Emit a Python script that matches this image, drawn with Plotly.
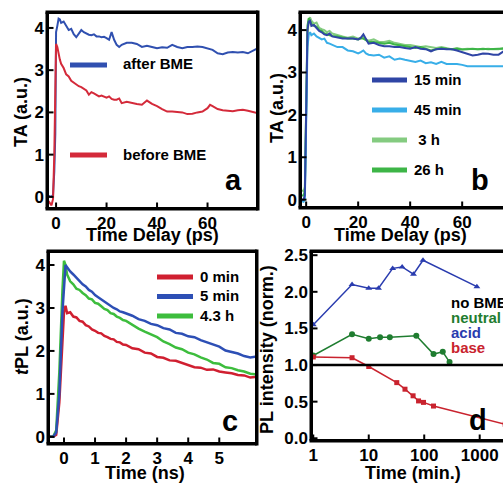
import math
import plotly.graph_objects as go

FONT = "Liberation Sans"
W, H = 503, 483

# ---------------- data: panel a (TA, before/after BME) ----------------
a_delay = [-3, -1.8, -1.2, -0.7, -0.3, 0, 0.5, 1, 1.5, 2, 3, 4, 5, 6, 7, 8, 9, 10, 11, 12,
           13, 14, 15, 16, 17, 18, 19, 20, 21, 22, 23, 24, 25, 26, 28, 30, 32, 34, 36, 38,
           40, 42, 44, 46, 48, 50, 52, 54, 56, 58, 60, 61, 62, 64, 66, 68, 70, 72, 74, 76,
           78, 80]
a_after = [0.02, 0.0, 0.05, 0.6, 1.5, 3.9, 4.05, 4.22, 4.2, 4.12, 4.15, 4.05, 3.95, 3.98, 3.85, 3.78, 3.88, 3.95, 3.9, 3.87,
           3.84, 3.83, 3.85, 3.8, 3.8, 3.78, 3.79, 3.76, 3.72, 3.9, 3.72, 3.6, 3.55, 3.6, 3.65, 3.65, 3.62, 3.55, 3.58, 3.55,
           3.52, 3.54, 3.53, 3.6, 3.55, 3.52, 3.55, 3.55, 3.56, 3.55, 3.52, 3.5, 3.48, 3.4, 3.38, 3.42, 3.43, 3.42, 3.43, 3.4,
           3.46, 3.52]
a_before = [-0.1, -0.2, -0.05, 1.0, 2.5, 3.62, 3.55, 3.35, 3.25, 3.15, 3.05, 2.9, 2.85, 2.75, 2.7, 2.65, 2.62, 2.6, 2.55, 2.52,
            2.42, 2.48, 2.45, 2.42, 2.38, 2.4, 2.38, 2.35, 2.38, 2.32, 2.3, 2.3, 2.33, 2.22, 2.25, 2.22, 2.2, 2.18, 2.28, 2.2,
            2.15, 2.08, 2.02, 2.02, 2.01, 2.0, 1.96, 1.97, 2.0, 2.02, 2.1, 2.18, 2.15, 2.08, 2.05, 2.04, 2.03, 2.05, 2.06, 2.04,
            2.0, 1.98]

# ---------------- data: panel b (TA vs time after BME) ----------------
b_delay = [-3, -1, -0.5, 0, 0.5, 1, 1.5, 2, 3, 4, 5, 6, 7, 8, 9, 10, 12, 14, 16, 18,
           20, 21, 22, 23, 24, 26, 28, 30, 32, 34, 36, 38, 40, 42, 44, 46, 48, 50, 52, 54,
           56, 58, 60, 62, 64, 66, 68, 70, 72, 74, 76, 78, 80]
b_15min = [0.0, 0.0, 0.1, 2.5, 4.0, 4.2, 4.22, 4.1, 4.12, 4.05, 3.98, 3.95, 3.9, 3.88, 3.92, 3.85, 3.82, 3.8, 3.8, 3.8,
           3.78, 3.82, 3.9, 3.78, 3.68, 3.7, 3.65, 3.62, 3.62, 3.6, 3.6, 3.58, 3.56, 3.6, 3.56, 3.55, 3.5, 3.55, 3.56, 3.55,
           3.55, 3.52, 3.48, 3.45, 3.4, 3.42, 3.45, 3.44, 3.42, 3.42, 3.5, 3.5, 3.52]
b_45min = [0.0, -0.05, 0.0, 1.5, 3.6, 3.9, 3.95, 3.88, 3.92, 3.85, 3.82, 3.78, 3.8, 3.7, 3.68, 3.65, 3.6, 3.6, 3.52, 3.5,
           3.45, 3.48, 3.52, 3.45, 3.42, 3.4, 3.42, 3.35, 3.38, 3.3, 3.33, 3.3, 3.28, 3.25, 3.28, 3.22, 3.24, 3.2, 3.25, 3.2,
           3.2, 3.2, 3.18, 3.15, 3.15, 3.15, 3.15, 3.15, 3.15, 3.15, 3.15, 3.15, 3.15]
b_3h = [0.25, 0.2, 0.3, 2.3, 3.9, 4.25, 4.3, 4.22, 4.15, 4.18, 4.05, 4.02, 4.0, 3.95, 3.98, 3.92, 3.88, 3.85, 3.82, 3.85,
        3.8, 3.82, 3.84, 3.78, 3.75, 3.78, 3.72, 3.72, 3.75, 3.7, 3.68, 3.65, 3.65, 3.62, 3.6, 3.62, 3.6, 3.58, 3.6, 3.58,
        3.55, 3.58, 3.55, 3.56, 3.55, 3.55, 3.55, 3.56, 3.55, 3.55, 3.58, 3.57, 3.6]
b_26h = [0.1, 0.1, 0.2, 2.8, 4.1, 4.28, 4.2, 4.15, 4.1, 4.08, 4.0, 3.98, 3.92, 3.9, 3.88, 3.86, 3.85, 3.82, 3.8, 3.8,
         3.78, 3.8, 3.8, 3.76, 3.72, 3.72, 3.7, 3.68, 3.7, 3.66, 3.64, 3.62, 3.6, 3.58, 3.6, 3.56, 3.52, 3.55, 3.58, 3.56,
         3.55, 3.56, 3.54, 3.55, 3.56, 3.55, 3.56, 3.55, 3.56, 3.56, 3.56, 3.57, 3.58]

# ---------------- data: panel c (tPL) ----------------
c_time = [-0.5, -0.35, -0.25, -0.15, -0.05, 0, 0.05, 0.1, 0.2, 0.3, 0.4, 0.5, 0.6, 0.7, 0.8, 0.9,
          1.0, 1.1, 1.2, 1.3, 1.4, 1.5, 1.6, 1.7, 1.8, 1.9, 2.0, 2.2, 2.4, 2.6, 2.8, 3.0,
          3.2, 3.4, 3.6, 3.8, 4.0, 4.2, 4.4, 4.6, 4.8, 5.0, 5.2, 5.4, 5.6, 5.8, 6.0, 6.2]
c_0min = [0.0, 0.0, 0.05, 0.8, 2.2, 2.9, 3.05, 2.88, 2.9, 2.8, 2.78, 2.7, 2.68, 2.6, 2.57, 2.5,
          2.47, 2.42, 2.41, 2.35, 2.32, 2.28, 2.27, 2.21, 2.2, 2.15, 2.14, 2.06, 2.04, 1.96, 1.94, 1.86,
          1.84, 1.78, 1.77, 1.72, 1.68, 1.62, 1.61, 1.56, 1.57, 1.52, 1.5, 1.48, 1.44, 1.43, 1.38, 1.4]
c_5min = [0.0, 0.0, 0.1, 1.0, 2.9, 3.6, 4.0, 3.95, 3.85, 3.78, 3.7, 3.62, 3.55, 3.5, 3.42, 3.38,
          3.3, 3.25, 3.2, 3.14, 3.1, 3.03, 3.0, 2.97, 2.92, 2.9, 2.87, 2.82, 2.74, 2.7, 2.63, 2.6,
          2.53, 2.5, 2.42, 2.4, 2.34, 2.32, 2.25, 2.2, 2.16, 2.1, 2.01, 1.98, 1.94, 1.88, 1.85, 1.87]
c_4h = [0.0, 0.0, 0.15, 1.5, 3.4, 4.1, 4.0, 3.78, 3.62, 3.55, 3.45, 3.42, 3.35, 3.3, 3.22, 3.2,
        3.12, 3.1, 3.04, 2.98, 2.95, 2.88, 2.86, 2.8, 2.77, 2.72, 2.7, 2.6, 2.52, 2.45, 2.38, 2.32,
        2.22, 2.16, 2.08, 2.04, 1.96, 1.92, 1.85, 1.8, 1.72, 1.7, 1.62, 1.6, 1.55, 1.52, 1.47, 1.45]

# ---------------- data: panel d (PL intensity, log time) ----------------
d_acid_t = [1, 5, 10, 15, 27, 40, 64, 95, 890]
d_acid_v = [1.55, 2.1, 2.05, 2.05, 2.32, 2.34, 2.24, 2.43, 2.07]
d_neutral_t = [1, 5, 10, 16, 24, 72, 147, 216, 286]
d_neutral_v = [1.13, 1.42, 1.36, 1.38, 1.38, 1.4, 1.15, 1.18, 1.04]
d_base_t = [1, 5, 10, 32, 45, 63, 79, 97, 147, 2880]
d_base_v = [1.11, 1.1, 0.98, 0.76, 0.67, 0.58, 0.51, 0.49, 0.44, 0.19]
d_ref_level = 1.0

d_text = ["no BME", "neutral", "acid", "base"]

# tick values
ticks_ps = [0, 20, 40, 60]
ticks_ta = [0, 1, 2, 3, 4]
ticks_ns = [0, 1, 2, 3, 4, 5]
ticks_min = [1, 10, 100, 1000]
ticks_pl = [0.0, 0.5, 1.0, 1.5, 2.0, 2.5]

# ---------------- colours ----------------
A_BLUE, A_RED = "#3050b0", "#d42a3a"
B_COLS = ["#2f45a5", "#38aee8", "#84cb80", "#3db547"]
C_RED, C_BLUE, C_GREEN = "#d01f30", "#2d4fb5", "#3dbd3d"
D_BLUE, D_GREEN, D_RED = "#2a3caf", "#1f7d30", "#c9232e"


def fx(p):
    return p / W


def fy(p):
    return 1 - p / H


def bold(vals, fmt="{:g}"):
    return ["<b>" + fmt.format(v) + "</b>" for v in vals]


# panel plot areas in pixels: (left, right, top, bottom)
PAN = {
    "a": (49, 256, 14, 207),
    "b": (302, 503, 14, 206),
    "c": (50, 255, 253, 442),
    "d": (313, 503, 253, 439),
}
RANGES = {
    "a": ([-2.8, 79.2], [-0.24, 4.33]),
    "b": ([-1.6, 75.7], [-0.15, 4.38]),
    "c": ([-0.45, 6.15], [-0.12, 4.28]),
    "d": ([-0.005, 3.42], [-0.01, 2.53]),
}

fig = go.Figure()

# panel a
fig.add_trace(go.Scatter(x=a_delay, y=a_after, xaxis="x", yaxis="y", mode="lines",
                         line=dict(color=A_BLUE, width=2)))
fig.add_trace(go.Scatter(x=a_delay, y=a_before, xaxis="x", yaxis="y", mode="lines",
                         line=dict(color=A_RED, width=2)))
# panel b
for ys, col in zip([b_3h, b_26h, b_45min, b_15min], [B_COLS[2], B_COLS[3], B_COLS[1], B_COLS[0]]):
    fig.add_trace(go.Scatter(x=b_delay, y=ys, xaxis="x2", yaxis="y2", mode="lines",
                             line=dict(color=col, width=2)))
# panel c
for ys, col in zip([c_0min, c_4h, c_5min], [C_RED, C_GREEN, C_BLUE]):
    fig.add_trace(go.Scatter(x=c_time, y=ys, xaxis="x3", yaxis="y3", mode="lines",
                             line=dict(color=col, width=2.5)))
# panel d
fig.add_trace(go.Scatter(x=d_acid_t, y=d_acid_v, xaxis="x4", yaxis="y4", mode="lines+markers",
                         line=dict(color=D_BLUE, width=1.5),
                         marker=dict(symbol="triangle-up", size=6, color=D_BLUE)))
fig.add_trace(go.Scatter(x=d_neutral_t, y=d_neutral_v, xaxis="x4", yaxis="y4", mode="lines+markers",
                         line=dict(color=D_GREEN, width=1.5),
                         marker=dict(symbol="circle", size=6, color=D_GREEN)))
fig.add_trace(go.Scatter(x=d_base_t, y=d_base_v, xaxis="x4", yaxis="y4", mode="lines+markers",
                         line=dict(color=D_RED, width=1.5),
                         marker=dict(symbol="square", size=5, color=D_RED)))

tick_font = dict(family=FONT, size=17, color="black")
common = dict(showline=False, ticks="", showgrid=False, zeroline=False,
              tickfont=tick_font, automargin=False, ticklabelstandoff=4)


def xdom(k):
    l, r, t, b = PAN[k]
    return [fx(l), fx(r)]


def ydom(k):
    l, r, t, b = PAN[k]
    return [fy(b), fy(t)]


fig.update_layout(
    template="none",
    width=W, height=H, margin=dict(l=0, r=0, t=0, b=0, pad=0),
    paper_bgcolor="white", plot_bgcolor="white", showlegend=False,
    xaxis=dict(common, domain=xdom("a"), range=RANGES["a"][0], tickvals=ticks_ps,
               ticktext=bold(ticks_ps), anchor="y"),
    yaxis=dict(common, domain=ydom("a"), range=RANGES["a"][1], tickvals=ticks_ta,
               ticktext=bold(ticks_ta), anchor="x"),
    xaxis2=dict(common, domain=xdom("b"), range=RANGES["b"][0], tickvals=ticks_ps,
                ticktext=bold(ticks_ps), anchor="y2"),
    yaxis2=dict(common, domain=ydom("b"), range=RANGES["b"][1], tickvals=ticks_ta,
                ticktext=bold(ticks_ta), anchor="x2"),
    xaxis3=dict(common, domain=xdom("c"), range=RANGES["c"][0], tickvals=ticks_ns,
                ticktext=bold(ticks_ns), anchor="y3"),
    yaxis3=dict(common, domain=ydom("c"), range=RANGES["c"][1], tickvals=ticks_ta,
                ticktext=bold(ticks_ta), anchor="x3"),
    xaxis4=dict(common, type="log", domain=xdom("d"), range=RANGES["d"][0],
                tickvals=ticks_min, ticktext=bold(ticks_min), anchor="y4"),
    yaxis4=dict(common, domain=ydom("d"), range=RANGES["d"][1],
                tickvals=ticks_pl, ticktext=bold(ticks_pl, "{:.1f}"), anchor="x4"),
)

shapes = []
FW = 3.5  # frame width (px)


def pline(x0, y0, x1, y1, color="black", width=FW):
    shapes.append(dict(type="line", xref="paper", yref="paper", layer="above",
                       x0=fx(x0), y0=fy(y0), x1=fx(x1), y1=fy(y1),
                       line=dict(color=color, width=width)))


# frames (drawn in paper space just outside each plot area)
for k, (l, r, t, b) in PAN.items():
    h = FW / 2
    L, R, T, B = l - h, r + h, t - h, b + h
    if k in ("b", "d"):
        R = W + 5  # frame runs off the right edge of the picture
    pline(L - h, B, R, B)   # bottom
    pline(L - h, T, R, T)   # top
    pline(L, T, L, B)       # left
    if k in ("a", "c"):
        pline(R, T - h, R, B + h)  # right

# inside tick marks at the axis tick values
TICKS = {"a": (ticks_ps, ticks_ta), "b": (ticks_ps, ticks_ta), "c": (ticks_ns, ticks_ta), "d": (ticks_min, ticks_pl)}
TL = 4.5
for k, (l, r, t, b) in PAN.items():
    (xr0, xr1), (yr0, yr1) = RANGES[k]
    xv, yv = TICKS[k]
    for v in xv:
        pos = math.log10(v) if k == "d" else v
        px = l + (pos - xr0) / (xr1 - xr0) * (r - l)
        pline(px, b, px, b - TL, width=2)
    for v in yv:
        py = b - (v - yr0) / (yr1 - yr0) * (b - t)
        pline(l, py, l + TL, py, width=2)

# reference line in panel d
shapes.append(dict(type="line", xref="x4 domain", x0=0, x1=1, yref="y4", y0=d_ref_level, y1=d_ref_level,
                   line=dict(color="black", width=2.5)))


def key(x0, x1, y, color):
    pline(x0, y, x1, y, color=color, width=5)


ann = []


def text(x, y, s, size=15, color="black", anchor="left", angle=0):
    ann.append(dict(xref="paper", yref="paper", x=fx(x), y=fy(y), text="<b>" + s + "</b>", showarrow=False,
                    xanchor=anchor, yanchor="middle", textangle=angle,
                    font=dict(family=FONT, size=size, color=color)))


# panel a legend + labels
key(70, 107, 65, A_BLUE)
key(70, 107, 155, A_RED)
text(121, 64, "after BME")
text(121, 154, "before BME")
text(233, 180, "a", size=29, anchor="center")
text(21, 112, "TA (a.u.)", size=18, anchor="center", angle=-90)
text(152, 235, "Time Delay (ps)", size=18, anchor="center")

# panel b legend + labels
b_names = ["15 min", "45 min", " 3 h", "26 h"]
for i, (nm, col) in enumerate(zip(b_names, B_COLS)):
    y = 80 + 30 * i
    key(372, 407, y, col)
    text(412, y - 1, nm)
text(480, 180, "b", size=29, anchor="center")
text(277, 108, "TA (a.u.)", size=18, anchor="center", angle=-90)
text(400, 235, "Time Delay (ps)", size=18, anchor="center")

# panel c legend + labels
c_names = ["0 min", "5 min", "4.3 h"]
for i, (nm, col) in enumerate(zip(c_names, [C_RED, C_BLUE, C_GREEN])):
    y = 277 + 19.5 * i
    key(157, 193, y, col)
    text(198, y - 1, nm)
text(230, 421, "c", size=29, anchor="center")
text(22, 337, "<i>t</i>PL (a.u.)", size=18, anchor="center", angle=-90)
text(145, 473, "Time (ns)", size=18, anchor="center")

# panel d text legend + labels
for i, (s, col) in enumerate(zip(d_text, ["black", D_GREEN, D_BLUE, D_RED])):
    text(449, 302 + 15 * i, s, size=15, color=col)
text(478, 420, "d", size=29, anchor="center")
text(267, 350, "PL intensity (norm.)", size=18, anchor="center", angle=-90)
text(413, 473, "Time (min.)", size=18, anchor="center")

fig.update_layout(shapes=shapes, annotations=ann)
fig.write_html("out.html", config={"displayModeBar": False},
               post_script="document.body.style.margin='0px';")
